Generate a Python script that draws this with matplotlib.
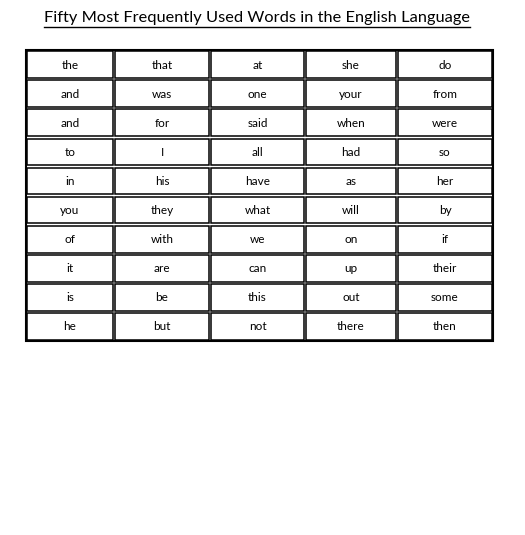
import matplotlib.pyplot as plt
from matplotlib.patches import Rectangle

TITLE = "Fifty Most Frequently Used Words in the English Language"

column_1 = ["the", "and", "and", "to", "in", "you", "of", "it", "is", "he"]
column_2 = ["that", "was", "for", "I", "his", "they", "with", "are", "be", "but"]
column_3 = ["at", "one", "said", "all", "have", "what", "we", "can", "this", "not"]
column_4 = ["she", "your", "when", "had", "as", "will", "on", "up", "out", "there"]
column_5 = ["do", "from", "were", "so", "her", "by", "if", "their", "some", "then"]
columns = [column_1, column_2, column_3, column_4, column_5]

FONT = ["Lato", "DejaVu Sans"]
col_edges = [26, 114, 210, 305, 397, 493]
top, row_h = 50, 29.1

fig = plt.figure(figsize=(5.25, 5.35), dpi=100)
ax = fig.add_axes([0, 0, 1, 1])
ax.set_xlim(0, 525)
ax.set_ylim(535, 0)
ax.axis("off")

n_rows = len(column_1)
bottom = top + row_h * n_rows
ax.add_patch(Rectangle((col_edges[0], top), col_edges[-1] - col_edges[0],
                       bottom - top, fill=False, lw=1.5, ec="black"))

gap = 1.2
for c, words in enumerate(columns):
    x0, x1 = col_edges[c], col_edges[c + 1]
    for r, word in enumerate(words):
        y0 = top + r * row_h
        ax.add_patch(Rectangle((x0 + gap, y0 + gap), x1 - x0 - 2 * gap,
                               row_h - 2 * gap, fill=False, lw=1.1, ec="black"))
        ax.text((x0 + x1) / 2, y0 + row_h / 2 + 0.5, word, ha="center",
                va="center", fontsize=8.5, family=FONT)

title = ax.text(257, 18, TITLE, ha="center", va="center", fontsize=11.8,
                family=FONT)
fig.canvas.draw()
bb = title.get_window_extent().transformed(ax.transData.inverted())
ax.plot([bb.x0, bb.x1], [26.5, 26.5], color="black", lw=1)

fig.savefig("out.png", dpi=100)
